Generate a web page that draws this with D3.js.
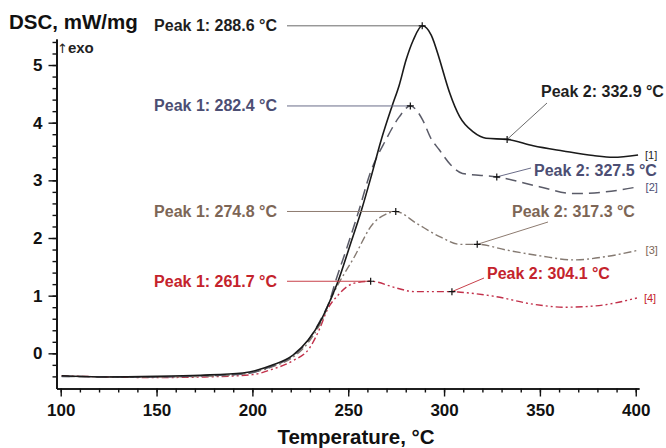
<!DOCTYPE html>
<html>
<head>
<meta charset="utf-8">
<script src="https://cdn.jsdelivr.net/npm/d3@7"></script>
<style>
  body { margin: 0; background: #fff; }
  svg { display: block; }
  text { font-family: "Liberation Sans", Arial, sans-serif; }
</style>
</head>
<body>
<svg id="chart" width="666" height="448"></svg>
<script>
// DSC curves of four samples: temperature (°C) and heat flow (mW/mg)
const seriesNames = ["[1]", "[2]", "[3]", "[4]"];

const temps1 = [100.5, 120, 150, 173, 195, 210.8, 221.2, 229.1, 235.9, 240.6, 244.7, 251.0, 256.7, 262.0, 267.2, 272.9, 276.6, 280.2, 283.9, 288.6, 293.3, 297.7, 300.0, 303.0, 308.2, 315.2, 321.9, 332.9, 346.5, 362.1, 377.8, 388.2, 401.2];
const dsc1   = [-0.39, -0.41, -0.40, -0.38, -0.34, -0.20, -0.03, 0.23, 0.58, 0.92, 1.25, 1.88, 2.46, 3.07, 3.70, 4.29, 4.65, 5.09, 5.43, 5.68, 5.52, 5.09, 4.83, 4.51, 4.10, 3.84, 3.73, 3.71, 3.60, 3.51, 3.43, 3.40, 3.44];

const temps2 = [100.5, 150, 173, 195, 210.5, 220.9, 228.8, 235.6, 240.3, 243.4, 249.6, 255.4, 261.6, 269.6, 276.6, 282.4, 288.8, 293.1, 297.5, 303.4, 309.6, 327.5, 349.7, 367.1, 384.3, 401.5];
const dsc2   = [-0.40, -0.41, -0.39, -0.36, -0.22, -0.05, 0.21, 0.58, 0.91, 1.25, 1.86, 2.46, 3.14, 3.70, 4.10, 4.29, 4.05, 3.73, 3.53, 3.27, 3.12, 3.06, 2.89, 2.77, 2.80, 2.89];

const temps3 = [100.5, 150, 173, 195, 210.6, 221, 229, 235.5, 242.3, 252.8, 263.2, 269.5, 274.8, 285.8, 298.0, 308.4, 317.3, 332.7, 350.2, 367.6, 384.9, 401.5];
const dsc3   = [-0.40, -0.41, -0.40, -0.36, -0.23, -0.07, 0.18, 0.52, 1.04, 1.65, 2.26, 2.41, 2.46, 2.25, 2.02, 1.89, 1.89, 1.79, 1.69, 1.62, 1.68, 1.79];

const temps4 = [100.5, 150, 175, 200, 210, 221, 230, 235, 239.0, 245, 249.5, 255, 261.7, 275.5, 284.3, 294.2, 304.1, 308.6, 326.0, 346.9, 362.5, 378.2, 400.6];
const dsc4   = [-0.39, -0.42, -0.41, -0.37, -0.28, -0.13, 0.10, 0.42, 0.75, 1.02, 1.16, 1.23, 1.25, 1.13, 1.07, 1.07, 1.07, 1.06, 0.99, 0.85, 0.80, 0.82, 0.96];

// Evaluated peak temperatures
const peak1Temps = [288.6, 282.4, 274.8, 261.7];
const peak2Temps = [332.9, 327.5, 317.3, 304.1];

const xTickLabels = [100, 150, 200, 250, 300, 350, 400];
const yTickLabels = [0, 1, 2, 3, 4, 5];

const svg = d3.select("#chart");

const x = d3.scaleLinear().domain([97.8, 401.7]).range([56.5, 639]);
const yPerUnit = 57.66;
const y = d3.scaleLinear().domain([-0.61, 5.45]).range([388.5, 388.5 - 6.06 * yPerUnit]);

const temps = [temps1, temps2, temps3, temps4];
const dscs = [dsc1, dsc2, dsc3, dsc4];

const lineColors = ["#1a1a1a", "#5a5b68", "#857a72", "#c2304a"];
const textColors = ["#1f1f1f", "#4c4e73", "#7d6656", "#c4232c"];
const guideColors = ["#6a6a6a", "#6a6c88", "#8d7b70", "#c8404a"];
const dashes = [null, "11,6", "8,3,2,3", "7,3,2,3,2,3"];
const widths = [1.6, 1.5, 1.4, 1.4];

// Axes
const axisColor = "#111";
const xAxisG = svg.append("g").attr("transform", `translate(0,${y.range()[0]})`);
xAxisG.append("g")
  .call(d3.axisBottom(x).tickValues(d3.range(100, 401, 10)).tickSize(4).tickSizeOuter(0).tickFormat(""));
xAxisG.append("g")
  .call(d3.axisBottom(x).tickValues(xTickLabels).tickSize(8).tickSizeOuter(0).tickPadding(7).tickFormat(d3.format("d")));

const yAxisG = svg.append("g").attr("transform", `translate(${x.range()[0]},0)`);
yAxisG.append("g")
  .call(d3.axisLeft(y).tickValues(d3.range(-0.4, 5.41, 0.2)).tickSize(4).tickSizeOuter(0).tickFormat(""));
yAxisG.append("g")
  .call(d3.axisLeft(y).tickValues(yTickLabels).tickSize(8).tickSizeOuter(0).tickPadding(6).tickFormat(d3.format("d")));

svg.selectAll(".domain").attr("stroke", axisColor).attr("stroke-width", 1.7);
svg.selectAll(".tick line").attr("stroke", axisColor).attr("stroke-width", 1.4);
svg.selectAll(".tick text")
  .attr("fill", "#111")
  .attr("font-size", 17)
  .attr("font-weight", "bold")
  .attr("font-family", "'Liberation Sans', Arial, sans-serif");

// Axis titles
svg.append("text").attr("x", 9).attr("y", 29)
  .attr("font-size", 20.5).attr("font-weight", "bold").attr("fill", "#111")
  .text("DSC, mW/mg");
const exo = svg.append("text").attr("x", 57).attr("y", 53).attr("fill", "#222");
exo.append("tspan")
  .attr("font-size", 13)
  .style("font-family", "'DejaVu Sans', sans-serif")
  .text("↑");
exo.append("tspan")
  .attr("dx", 0)
  .attr("font-size", 15).attr("font-weight", "bold")
  .text("exo");
svg.append("text").attr("x", 356).attr("y", 444).attr("text-anchor", "middle")
  .attr("font-size", 20.5).attr("font-weight", "bold").attr("fill", "#111")
  .text("Temperature, °C");

// Curves
const line = d3.line().x(d => x(d[0])).y(d => y(d[1])).curve(d3.curveMonotoneX);
const valueAt = (i, t) => {
  const ts = temps[i], vs = dscs[i];
  const k = ts.indexOf(t);
  if (k >= 0) return vs[k];
  const j = d3.bisectLeft(ts, t);
  const f = (t - ts[j - 1]) / (ts[j] - ts[j - 1]);
  return vs[j - 1] + f * (vs[j] - vs[j - 1]);
};

// Peak 2 label anchors: [text x, text baseline, pointer start x, pointer start y]
const peak2Layout = [
  [541, 97, 547, 103],
  [534, 176, 531, 168],
  [512, 217, 548, 222],
  [487, 279, 484, 278]
];

for (let i = 3; i >= 0; i--) {
  const pts = temps[i].map((t, k) => [t, dscs[i][k]]);
  svg.append("path")
    .datum(pts)
    .attr("d", line)
    .attr("fill", "none")
    .attr("stroke", lineColors[i])
    .attr("stroke-width", widths[i])
    .attr("stroke-dasharray", dashes[i]);
}

for (let i = 0; i < 4; i++) {
  const endT = temps[i][temps[i].length - 1];
  const endV = dscs[i][dscs[i].length - 1];
  svg.append("text")
    .attr("x", x(endT) + 7).attr("y", y(endV) + 4)
    .attr("font-size", 11).attr("fill", textColors[i])
    .text(seriesNames[i]);

  // Peak 1
  const p1x = x(peak1Temps[i]), p1y = y(valueAt(i, peak1Temps[i]));
  svg.append("line").attr("x1", 287).attr("y1", p1y).attr("x2", p1x).attr("y2", p1y)
    .attr("stroke", guideColors[i]).attr("stroke-width", 1);
  svg.append("text").attr("x", 277).attr("y", p1y + 5.5).attr("text-anchor", "end")
    .attr("font-size", 16).attr("font-weight", "bold").attr("fill", textColors[i])
    .text(`Peak 1: ${peak1Temps[i].toFixed(1)} °C`);

  // Peak 2
  const [tx, ty, sx, sy] = peak2Layout[i];
  const p2x = x(peak2Temps[i]), p2y = y(valueAt(i, peak2Temps[i]));
  svg.append("line").attr("x1", sx).attr("y1", sy).attr("x2", p2x).attr("y2", p2y)
    .attr("stroke", guideColors[i]).attr("stroke-width", 1);
  svg.append("text").attr("x", tx).attr("y", ty)
    .attr("font-size", 16).attr("font-weight", "bold").attr("fill", textColors[i])
    .text(`Peak 2: ${peak2Temps[i].toFixed(1)} °C`);

  // Crosshair markers
  [[p1x, p1y], [p2x, p2y]].forEach(([cx, cy]) => {
    svg.append("path")
      .attr("d", `M${cx - 3.5},${cy}H${cx + 3.5}M${cx},${cy - 3.5}V${cy + 3.5}`)
      .attr("stroke", "#111").attr("stroke-width", 1.2);
  });
}
</script>
</body>
</html>
